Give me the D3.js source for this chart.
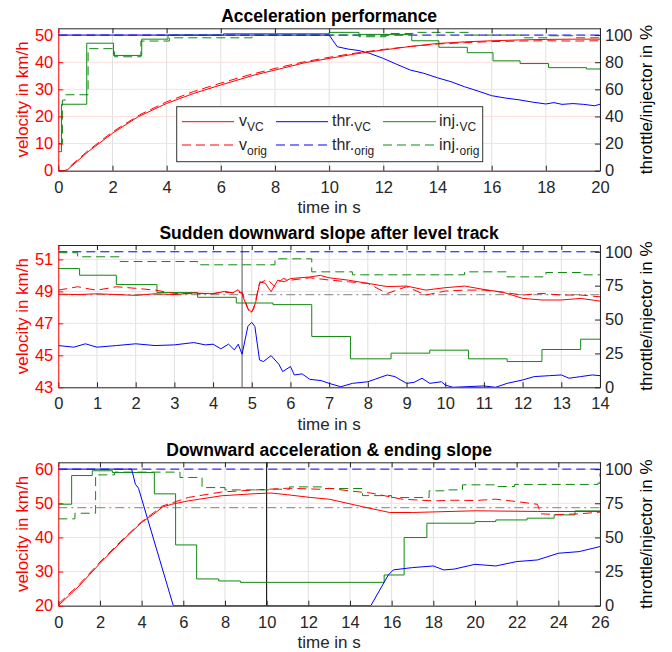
<!DOCTYPE html>
<html lang="en">
<head>
<meta charset="UTF-8">
<title>Velocity control</title>
<script src="https://d3js.org/d3.v7.min.js"></script>
<style>
  body { margin: 0; background: #fff; }
  svg { display: block; }
  text { font-family: "Liberation Sans", Arial, Helvetica, sans-serif; }
</style>
</head>
<body>
<script>
// ---- data: [time s, value] ----
// panel 1: acceleration performance
const accVVc = [[0,0],[0.3,0],[1.1,7],[2,13.8],[2.95,19.9],[4,24.8],[5,28.5],[6,31.6],[7.25,35.3],[8,37.1],[9.1,39.8],[10,41.4],[11,43.1],[12,44.5],[13,45.8],[14,46.9],[15,47.5],[16,47.9],[17,48.2],[18,48.4],[19,48.5],[20,48.5]];
const accVOrig = [[0,0],[0.25,0],[1.1,7.4],[2,14.3],[3,20.6],[4,25.4],[5,29.2],[6,32.3],[7,35.2],[8,37.7],[9,40],[10,41.8],[11,43.4],[12,44.7],[13,45.8],[14,46.7],[15,47.2],[16,47.6],[17,47.8],[18,47.9],[19,47.8],[20,47.9]];
const accThrVc = [[0,100],[10,100],[10.3,91.4],[10.7,89.7],[11.1,88.6],[11.5,86.5],[12,82.8],[12.5,78.4],[13,74.2],[13.5,71.8],[14,68.5],[14.5,65.6],[15,61.9],[15.5,58.7],[16,55.3],[16.5,53.6],[17,52.3],[17.5,50.6],[18,49.2],[18.3,50.2],[18.6,48.9],[19,49.5],[19.4,48.9],[19.8,47.9],[20,49]];
const accThrOrig = [[0,100],[20,100]];
const accInjVc = [[0,14],[0.12,49],[1.05,94],[2.04,85],[3.08,97],[4.05,100],[6.1,101],[10,102],[11.1,100.5],[13.05,95.8],[14.05,91],[15.1,87],[16.05,81],[17.05,79],[18.1,76],[19.5,75],[20,75]];
const accInjOrig = [[0,20],[0.15,52],[0.25,56],[1.1,90],[2.08,84],[3.05,95.6],[4.1,98],[7.15,100],[11.1,98.8],[12.1,101.2],[13.1,102],[15.2,100],[17.1,98],[18.1,99.5],[19,98],[20,98]];

// panel 2: sudden downward slope after level track
const slopeVVc = [[0,48.83],[0.5,48.8],[1,48.85],[1.5,48.8],[2,48.75],[2.5,48.85],[3,48.8],[3.5,48.9],[4,48.85],[4.3,49],[4.5,48.9],[4.65,49.1],[4.75,48.8],[4.9,47.9],[5,47.7],[5.1,48.3],[5.21,49.6],[5.35,49.5],[5.5,48.98],[5.67,49.7],[5.84,49.6],[6,49.8],[6.5,49.9],[6.77,50],[7,49.85],[7.5,49.7],[8,49.5],[8.5,49.3],[9,49.33],[9.5,49.08],[10,49.23],[10.5,49.33],[11,49.12],[11.5,48.94],[12,48.56],[12.5,48.46],[13,48.46],[13.5,48.56],[14,48.39]];
const slopeVOrig = [[0,49.08],[0.3,49.2],[0.5,49.29],[0.8,49.15],[1,49.08],[1.3,49.2],[1.5,49.29],[2,49.19],[2.5,49.08],[3,48.87],[3.5,48.85],[4,48.87],[4.3,48.95],[4.6,48.9],[4.75,48.95],[4.95,47.6],[5.05,47.9],[5.2,49.5],[5.4,49.75],[5.6,49.3],[5.8,49.8],[6,49.7],[6.5,49.85],[7,49.71],[7.5,49.6],[8,49.5],[8.5,48.87],[9,49.29],[9.5,48.77],[10,49.02],[10.5,49.08],[11,49.08],[11.5,48.94],[12,48.77],[12.5,48.87],[13,48.77],[13.5,48.77],[14,48.66]];
const slopeThrVc = [[0,30.8],[0.4,29.6],[0.7,32.1],[1,29.6],[1.5,30.8],[2,32.1],[2.5,30.8],[3,31.3],[3.5,33],[3.8,31.3],[4,31.8],[4.2,28.4],[4.4,31.8],[4.55,27.6],[4.65,31.8],[4.75,24.4],[4.9,45],[5,47.9],[5.08,44.9],[5.2,20.2],[5.3,19],[5.5,23.4],[5.7,17],[5.8,11.6],[6,15.3],[6.1,9.1],[6.3,9.9],[6.5,5.9],[6.8,4.9],[7,2.9],[7.3,0.4],[7.6,2.9],[8,4.1],[8.2,6.1],[8.5,9.1],[8.7,7.9],[9,2.9],[9.2,3.7],[9.4,6.7],[9.6,2.9],[9.9,4.1],[10,1.7],[10.2,0],[11,1],[11.3,0],[11.6,2.9],[12,5.4],[12.3,7.9],[12.7,8.6],[13,9.1],[13.2,6.7],[13.5,7.9],[13.8,9.1],[14,8.6]];
const slopeThrOrig = [[0,100],[14,100]];
const slopeInjVc = [[0,87.6],[0.55,82.7],[1.5,75.8],[2.55,69.9],[3.6,66.4],[4.6,62.2],[5.55,61],[6.55,37.5],[7.55,21],[8.6,25.2],[9.6,27.4],[10.6,21],[11.6,19],[12.5,27.9],[13.5,35.5],[14,35.5]];
const slopeInjOrig = [[0,99.3],[0.5,96.3],[1.6,92.8],[3.6,90.4],[5.6,94.8],[6.55,85.2],[7.6,83],[10.5,85.2],[11.6,81.5],[12.6,84.7],[13.5,83],[14,83]];

// panel 3: downward acceleration & ending slope
const downVVc = [[0,20],[1,25.8],[2,32.4],[3,38.6],[4,44.4],[4.64,47.1],[5,48.9],[5.44,49.7],[6.24,50.7],[7.84,52.2],[9.44,52.8],[10.2,53],[11,52.5],[12.1,51.7],[13,51.2],[14.6,49],[15.9,47.3],[17,47.3],[20,47.8],[23,47.6],[26,47.6]];
const downVOrig = [[0,20.5],[1,26.2],[2,32.8],[3,38.9],[4,44.6],[5,49.2],[6.24,51.7],[7.84,53.3],[9.44,53.9],[11,54.4],[12.6,54.1],[13,54.4],[14,53.6],[15,53],[16.5,51.2],[18,50.7],[19,50.9],[20,50.8],[21,51.2],[22,50.5],[23,49.7],[23.15,46.9],[24,46.7],[25,46.9],[26,47.4]];
const downThrVc = [[0,100],[3.52,100],[3.7,89],[3.85,86],[5.52,0],[15,0],[15.84,22.5],[16.08,26.2],[16.5,27],[17,27.9],[18,29.1],[18.5,26.2],[19,26.8],[20,30.3],[21,29.1],[22,32.3],[23,33.5],[24,38.4],[25,39.6],[26,43.3]];
const downThrOrig = [[0,100],[26,100]];
const downInjVc = [[0,74.3],[0.64,95.3],[1.63,98.8],[2.6,97.5],[4.61,81.9],[5.63,44.5],[6.64,19.6],[7.7,18.1],[8.74,17.1],[15.64,22.5],[16.6,49.9],[17.69,60.4],[20,61.6],[21,62.8],[22.5,64.1],[23.8,66.5],[24.8,69.4],[26,69.4]];
const downInjOrig = [[0,63.6],[0.8,67.7],[1.79,95.8],[2.7,97.8],[5.84,93.9],[6.9,86.5],[8,84.8],[10.1,85.3],[11.1,87],[12.7,85.8],[14.6,80.6],[16,79.2],[17.8,84.1],[18.5,84.8],[19.4,88.5],[21,87.3],[21.9,88.8],[25.9,89.7],[26,97]];

// reference speed and marker times
const slopeRefSpeed = 48.8, slopeMarkT = 4.75;
const downRefSpeed = 48.7, downMarkT = 10;

// ticks
const accXTicks = d3.range(0, 21, 2);
const slopeXTicks = d3.range(0, 15, 1);
const downXTicks = d3.range(0, 27, 2);
const accVTicks = [0, 10, 20, 30, 40, 50];
const slopeVTicks = [43, 45, 47, 49, 51];
const downVTicks = [20, 30, 40, 50, 60];
const accPctTicks = [0, 20, 40, 60, 80, 100];
const quarterPctTicks = [0, 25, 50, 75, 100];

const titles = ["Acceleration performance", "Sudden downward slope after level track", "Downward acceleration & ending slope"];
const legendNames = [["v", "VC"], ["thr.", "VC"], ["inj.", "VC"], ["v", "orig"], ["thr.", "orig"], ["inj.", "orig"]];

const RED = "#ff0000", BLUE = "#0000ff", GREEN = "#108a10", AX = "#262626";
const X0 = 58.3, X1 = 600;

const svg = d3.select("body").append("svg").attr("width", 672).attr("height", 652);

function series(vc, orig, thrVc, thrOrig, injVc, injOrig) {
  return [
    {d: thrOrig, side: "R", color: BLUE, dash: true},
    {d: injOrig, side: "R", color: GREEN, dash: true, step: true},
    {d: injVc, side: "R", color: GREEN, step: true},
    {d: thrVc, side: "R", color: BLUE},
    {d: orig, side: "L", color: RED, dash: true},
    {d: vc, side: "L", color: RED}
  ];
}

const panels = [
  {top: 28.3, bottom: 170.7, xMax: 20, xTicks: accXTicks, yL: [0, 52.5], yLTicks: accVTicks, yRTicks: accPctTicks,
   title: titles[0], lines: series(accVVc, accVOrig, accThrVc, accThrOrig, accInjVc, accInjOrig), legend: true},
  {top: 245, bottom: 387.3, xMax: 14, xTicks: slopeXTicks, yL: [43, 51.9], yLTicks: slopeVTicks, yRTicks: quarterPctTicks,
   title: titles[1], lines: series(slopeVVc, slopeVOrig, slopeThrVc, slopeThrOrig, slopeInjVc, slopeInjOrig),
   ref: slopeRefSpeed, mark: slopeMarkT, markColor: "#555"},
  {top: 462.3, bottom: 605.7, xMax: 26, xTicks: downXTicks, yL: [20, 62], yLTicks: downVTicks, yRTicks: quarterPctTicks,
   title: titles[2], lines: series(downVVc, downVOrig, downThrVc, downThrOrig, downInjVc, downInjOrig),
   ref: downRefSpeed, mark: downMarkT, markColor: "#000"}
];

panels.forEach(function (p, i) {
  const x = d3.scaleLinear().domain([0, p.xMax]).range([X0, X1]);
  const yL = d3.scaleLinear().domain(p.yL).range([p.bottom, p.top]);
  const yR = d3.scaleLinear().domain([0, 105]).range([p.bottom, p.top]);
  const g = svg.append("g");

  g.append("text")
    .attr("x", (X0 + X1) / 2).attr("y", p.top - 6.5)
    .attr("text-anchor", "middle").attr("font-weight", "bold").attr("font-size", 17.5)
    .text(p.title);

  // grid
  g.append("g").selectAll("line").data(p.xTicks).join("line")
    .attr("x1", d => x(d)).attr("x2", d => x(d))
    .attr("y1", p.top).attr("y2", p.bottom)
    .attr("stroke", "#e0e0e0");
  g.append("g").selectAll("line").data(p.yLTicks).join("line")
    .attr("x1", X0).attr("x2", X1)
    .attr("y1", d => yL(d)).attr("y2", d => yL(d))
    .attr("stroke", "#ffdcdc");

  svg.append("clipPath").attr("id", "clip" + i).append("rect")
    .attr("x", X0).attr("y", p.top).attr("width", X1 - X0).attr("height", p.bottom - p.top);
  const plot = g.append("g").attr("clip-path", "url(#clip" + i + ")");

  if (p.ref !== undefined) {
    plot.append("line")
      .attr("x1", X0).attr("x2", X1).attr("y1", yL(p.ref)).attr("y2", yL(p.ref))
      .attr("stroke", "#999").attr("stroke-width", 1.2).attr("stroke-dasharray", "9,4,2,4");
  }
  if (p.mark !== undefined) {
    plot.append("line")
      .attr("x1", x(p.mark)).attr("x2", x(p.mark)).attr("y1", p.top).attr("y2", p.bottom)
      .attr("stroke", p.markColor).attr("stroke-width", 1);
  }

  p.lines.forEach(function (s) {
    const ys = s.side === "L" ? yL : yR;
    const line = d3.line().x(d => x(d[0])).y(d => ys(d[1]))
      .curve(s.step ? d3.curveStepAfter : d3.curveLinear);
    plot.append("path").datum(s.d)
      .attr("d", line).attr("fill", "none")
      .attr("stroke", s.color).attr("stroke-width", 1)
      .attr("stroke-dasharray", s.dash ? "9,5" : null);
  });

  // axes
  const fs = 16.5;
  function style(sel, color) {
    sel.attr("font-family", null).attr("font-size", fs).attr("color", color);
    sel.selectAll("text").attr("fill", color);
  }
  g.append("g").attr("transform", "translate(0," + p.bottom + ")")
    .call(d3.axisBottom(x).tickValues(p.xTicks).tickFormat(d3.format("d")).tickSize(-5).tickSizeOuter(0).tickPadding(10.3))
    .call(sel => style(sel, AX));
  g.append("g").attr("transform", "translate(0," + p.top + ")")
    .call(d3.axisTop(x).tickValues(p.xTicks).tickFormat("").tickSize(-5).tickSizeOuter(0))
    .call(sel => style(sel, AX));
  g.append("g").attr("transform", "translate(" + X1 + ",0)")
    .call(d3.axisRight(yR).tickValues(p.yRTicks).tickSize(-5).tickSizeOuter(0).tickPadding(5))
    .call(sel => style(sel, AX));
  g.append("g").attr("transform", "translate(" + X0 + ",0)")
    .call(d3.axisLeft(yL).tickValues(p.yLTicks).tickSize(-5).tickSizeOuter(0).tickPadding(5))
    .call(sel => style(sel, RED));

  const midY = (p.top + p.bottom) / 2;
  g.append("text").attr("transform", "translate(28," + midY + ") rotate(-90)")
    .attr("text-anchor", "middle").attr("font-size", 17).attr("fill", RED)
    .text("velocity in km/h");
  g.append("text").attr("transform", "translate(652," + midY + ") rotate(-90)")
    .attr("text-anchor", "middle").attr("font-size", 17).attr("fill", "#000")
    .text("throttle/injector in %");
  g.append("text").attr("x", (X0 + X1) / 2).attr("y", p.bottom + 42.6)
    .attr("text-anchor", "middle").attr("font-size", 17).attr("fill", AX)
    .text("time in s");

  if (p.legend) {
    const lg = g.append("g");
    lg.append("rect").attr("x", 176.7).attr("y", 106.7).attr("width", 306).attr("height", 55)
      .attr("fill", "#fff").attr("stroke", "#333").attr("stroke-width", 1);
    const cols = [[182, 234, 239], [276, 328, 332], [383, 436, 439]];
    const colors = [RED, BLUE, GREEN];
    const rows = [121.7, 145];
    legendNames.forEach(function (nm, k) {
      const c = k % 3, r = Math.floor(k / 3);
      lg.append("line")
        .attr("x1", cols[c][0]).attr("x2", cols[c][1]).attr("y1", rows[r]).attr("y2", rows[r])
        .attr("stroke", colors[c]).attr("stroke-width", 1)
        .attr("stroke-dasharray", r === 1 ? "9,5" : null);
      const t = lg.append("text").attr("x", cols[c][2]).attr("y", rows[r] + 4.5)
        .attr("font-size", 16).attr("fill", AX);
      t.append("tspan").text(nm[0]);
      t.append("tspan").attr("font-size", 12).attr("dy", 5).text(nm[1]);
    });
  }
});
</script>
</body>
</html>
